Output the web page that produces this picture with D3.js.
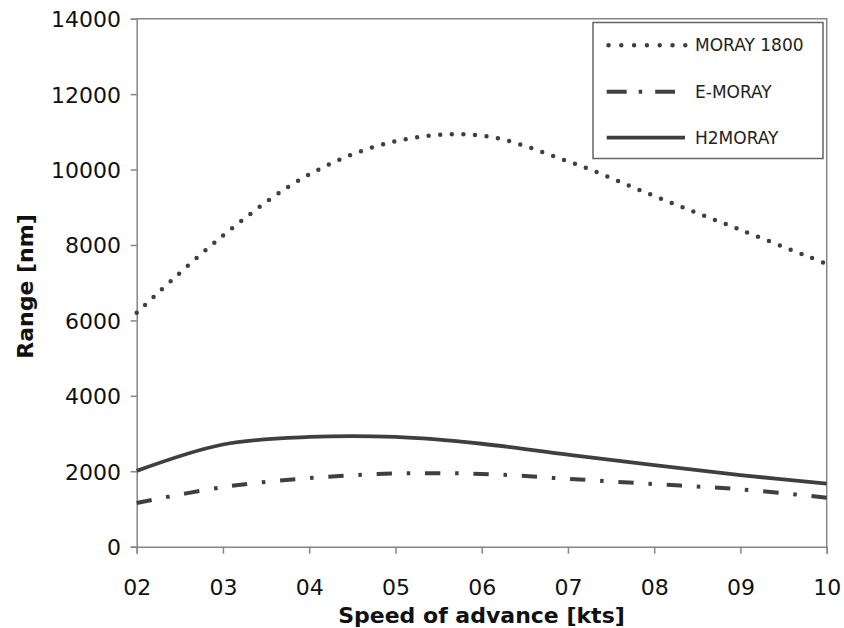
<!DOCTYPE html>
<html><head><meta charset="utf-8">
<script src="https://cdn.jsdelivr.net/npm/d3@7"></script>
<style>body{margin:0;background:#fff}svg{display:block}</style>
</head><body>
<svg id="c" width="844" height="628"></svg>
<script>
const speeds = [2,3,4,5,6,7,8,9,10];
const moray1800 = [6200,8250,9870,10750,10900,10220,9300,8400,7500];
const emoray = [1160,1580,1820,1940,1930,1800,1660,1520,1300];
const h2moray = [2010,2710,2910,2910,2730,2440,2160,1900,1670];
const seriesNames = ["MORAY 1800","E-MORAY","H2MORAY"];
const yTicks = [0,2000,4000,6000,8000,10000,12000,14000];
const xTicks = [2,3,4,5,6,7,8,9,10];

const svg = d3.select("#c");
const L=136.7,R=826.7,T=18.7,B=546.7;
const x = d3.scaleLinear().domain([2,10]).range([L,R]);
const y = d3.scaleLinear().domain([0,14000]).range([B,T]);
const axisCol="#868686", lineCol="#3f3f3f";
const font="'DejaVu Sans', sans-serif";

svg.append("path").attr("d",`M${L},${T}H${R}V${B}`).attr("fill","none").attr("stroke",axisCol).attr("stroke-width",1.5);

const ya = svg.append("g").attr("transform",`translate(${L},0)`)
  .call(d3.axisLeft(y).tickValues(yTicks).tickSize(6).tickPadding(9.7).tickFormat(d3.format("d")));
const xa = svg.append("g").attr("transform",`translate(0,${B})`)
  .call(d3.axisBottom(x).tickValues(xTicks).tickSize(7).tickPadding(13).tickFormat(d3.format("02d")));
[ya,xa].forEach(g=>{
  g.select(".domain").attr("stroke",axisCol).attr("stroke-width",1.5);
  g.selectAll("line").attr("stroke",axisCol).attr("stroke-width",1.5);
  g.selectAll("text").attr("fill","#111").style("font-family",font).style("font-size","22px");
});
ya.selectAll("text").attr("dy","0.36em");
xa.selectAll("text").attr("y",48.3).attr("dy",0);

const line = d3.line().x((d,i)=>x(speeds[i])).y(d=>y(d)).curve(d3.curveCatmullRom.alpha(0.5));
const styles = [
  {data:moray1800, dash:"0 11.6", cap:"round", w:4.5, lx2:685.5, ldash:"0 12.8"},
  {data:emoray, dash:"15.3 14.8 3.5 14.8", cap:"butt", w:4, lx2:675, ldash:"20 12 3.5 13 20"},
  {data:h2moray, dash:null, cap:"butt", w:3.8, lx2:685, ldash:null}
];
styles.forEach(s=>{
  svg.append("path").attr("d",line(s.data)).attr("fill","none").attr("stroke",lineCol)
    .attr("stroke-width",s.w).attr("stroke-linecap",s.cap).attr("stroke-dasharray",s.dash);
});

const lg = svg.append("g");
lg.append("rect").attr("x",593).attr("y",22.5).attr("width",230).attr("height",136)
  .attr("fill","#fff").attr("stroke","#656565").attr("stroke-width",1.5);
const rowY=[45.3,91.7,137.7];
seriesNames.forEach((n,i)=>{
  const s=styles[i];
  lg.append("line").attr("x1",i===0?608.5:606.7).attr("x2",s.lx2).attr("y1",rowY[i]).attr("y2",rowY[i])
    .attr("stroke",lineCol).attr("stroke-width",s.w).attr("stroke-linecap",s.cap)
    .attr("stroke-dasharray",s.ldash);
  lg.append("text").attr("x",695).attr("y",rowY[i]).attr("dy","0.36em").text(n)
    .style("font-family",font).style("font-size","17px").attr("fill","#222");
});

svg.append("text").attr("x",481.5).attr("y",623).attr("text-anchor","middle")
  .style("font-family",font).style("font-size","22px").style("font-weight","bold").attr("fill","#111").text("Speed of advance [kts]");
svg.append("text").attr("transform","translate(33,286.5) rotate(-90)").attr("text-anchor","middle")
  .style("font-family",font).style("font-size","22px").style("font-weight","bold").attr("fill","#111").text("Range [nm]");
</script>
</body></html>
